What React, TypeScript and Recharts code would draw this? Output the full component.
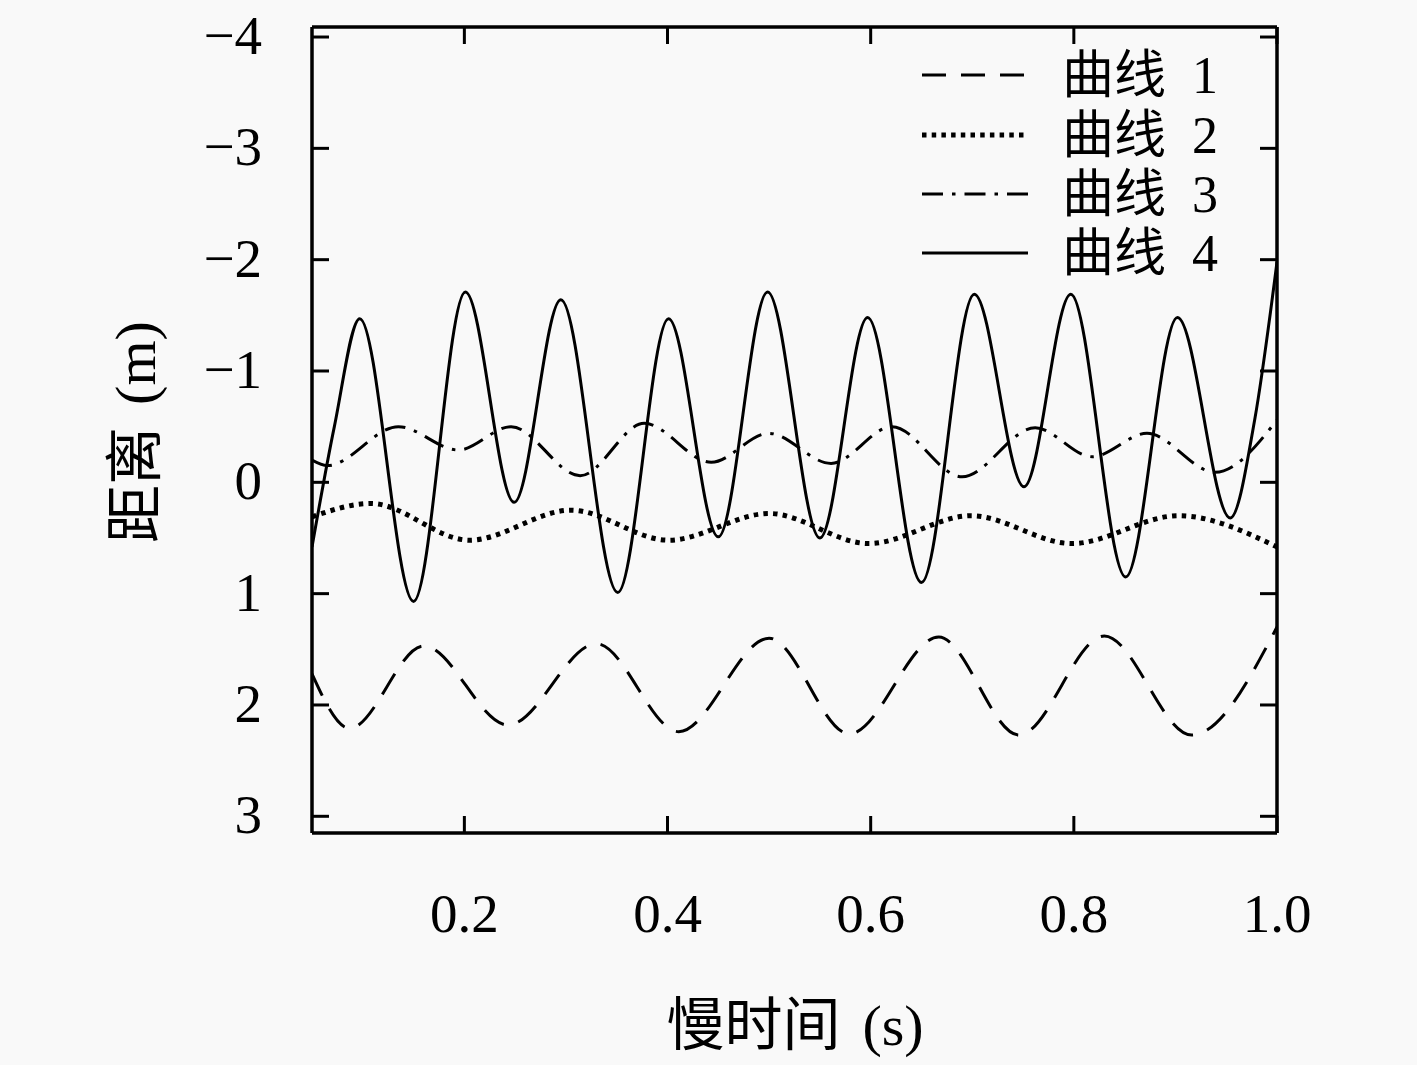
import { LineChart, Line, XAxis, YAxis } from 'recharts';

// values: [slow time (s), distance (m)]
const curve1 = [
  [0.05, 1.72], [0.087, 2.21], [0.16, 1.47], [0.243, 2.18], [0.33, 1.45], [0.411, 2.24],
  [0.5, 1.4], [0.579, 2.26], [0.667, 1.39], [0.746, 2.27], [0.83, 1.38], [0.916, 2.27], [1.0, 1.3],
];
const curve2 = [
  [0.05, 0.31], [0.108, 0.19], [0.205, 0.52], [0.305, 0.25], [0.401, 0.52], [0.5, 0.28],
  [0.598, 0.55], [0.699, 0.3], [0.798, 0.55], [0.903, 0.3], [1.0, 0.58],
];
const curve3 = [
  [0.05, -0.2], [0.065, -0.15], [0.135, -0.5], [0.194, -0.29], [0.246, -0.5], [0.314, -0.06],
  [0.377, -0.53], [0.443, -0.18], [0.4995, -0.44], [0.561, -0.17], [0.621, -0.5], [0.69, -0.05],
  [0.762, -0.49], [0.818, -0.23], [0.872, -0.44], [0.939, -0.09], [1.0, -0.56],
];
const curve4 = [
  [0.05, 0.58], [0.072, -0.5], [0.097, -1.47], [0.15, 1.07], [0.201, -1.71], [0.249, 0.18],
  [0.295, -1.64], [0.351, 0.99], [0.401, -1.47], [0.45, 0.49], [0.4985, -1.71], [0.55, 0.5],
  [0.597, -1.48], [0.65, 0.9], [0.702, -1.69], [0.751, 0.04], [0.797, -1.69], [0.851, 0.85],
  [0.902, -1.48], [0.954, 0.32], [0.978, -0.56], [1.0, -1.98],
];

const xTicks = [0.2, 0.4, 0.6, 0.8, 1.0];
const yTicks = [-4, -3, -2, -1, 0, 1, 2, 3];
const seriesNames = ['曲线 1', '曲线 2', '曲线 3', '曲线 4'];

const toPoints = (rows: number[][]) => rows.map(([x, y]) => ({ x, y }));

const SERIES = [
  { name: seriesNames[0], data: toPoints(curve1), dash: '24 15', width: 3 },
  { name: seriesNames[1], data: toPoints(curve2), dash: '4.5 5.2', width: 5 },
  { name: seriesNames[2], data: toPoints(curve3), dash: '21 9 3.5 9', width: 3 },
  { name: seriesNames[3], data: toPoints(curve4), dash: undefined, width: 3 },
];

const W = 1417;
const H = 1065;
const PLOT = { left: 312, top: 27, right: 1277, bottom: 833 };
const TICK_LEN = 17;
const FONT = '"Liberation Serif", "Noto Sans CJK SC", serif';
const INK = '#000';

const fmtY = (v: number) => (v < 0 ? `\u2212${Math.abs(v)}` : `${v}`);

function LeftTick(props: any) {
  const { y, payload } = props;
  return (
    <g>
      <line x1={PLOT.left} x2={PLOT.left + TICK_LEN} y1={y} y2={y} stroke={INK} strokeWidth={3} />
      <text x={262} y={y + 17} textAnchor="end" fontFamily={FONT} fontSize={55} fill={INK}>
        {fmtY(payload.value)}
      </text>
    </g>
  );
}

function RightTick(props: any) {
  const { y } = props;
  return <line x1={PLOT.right - TICK_LEN} x2={PLOT.right} y1={y} y2={y} stroke={INK} strokeWidth={3} />;
}

function BottomTick(props: any) {
  const { x, payload } = props;
  return (
    <g>
      <line x1={x} x2={x} y1={PLOT.bottom} y2={PLOT.bottom - TICK_LEN} stroke={INK} strokeWidth={3} />
      <text x={x} y={932} textAnchor="middle" fontFamily={FONT} fontSize={55} fill={INK}>
        {payload.value.toFixed(1)}
      </text>
    </g>
  );
}

function TopTick(props: any) {
  const { x } = props;
  return <line x1={x} x2={x} y1={PLOT.top} y2={PLOT.top + TICK_LEN} stroke={INK} strokeWidth={3} />;
}

function Legend() {
  const rows = [75, 135, 194, 253];
  return (
    <svg width={W} height={H} style={{ position: 'absolute', left: 0, top: 0, pointerEvents: 'none' }}>
      {SERIES.map((s, i) => {
        const [word, num] = s.name.split(' ');
        return (
          <g key={s.name}>
            <line
              x1={922}
              x2={1028}
              y1={rows[i]}
              y2={rows[i]}
              stroke={INK}
              strokeWidth={s.width}
              strokeDasharray={s.dash}
            />
            <text x={1062} y={rows[i] + 18} fontFamily={FONT} fontSize={52} fill={INK}>
              {word}
              <tspan dx={26}>{num}</tspan>
            </text>
          </g>
        );
      })}
    </svg>
  );
}

export default function App() {
  const axisLine = { stroke: INK, strokeWidth: 3.5 };
  return (
    <div style={{ position: 'absolute', left: 0, top: 0, width: W, height: H, background: '#f9f9f9' }}>
      <LineChart
        width={W}
        height={H}
        margin={{ top: 17, right: 130, bottom: 132, left: 212 }}
      >
        <XAxis
          type="number"
          dataKey="x"
          domain={[0.05, 1.0]}
          ticks={xTicks}
          allowDataOverflow
          height={100}
          axisLine={axisLine}
          tickLine={false}
          tick={BottomTick}
          label={{
            content: () => (
              <text x={795} y={1045} textAnchor="middle" fontFamily={FONT} fontSize={58} fill={INK}>
                慢时间
                <tspan dx={22}>(s)</tspan>
              </text>
            ),
          }}
        />
        <XAxis
          xAxisId="top"
          orientation="top"
          type="number"
          dataKey="x"
          domain={[0.05, 1.0]}
          ticks={xTicks}
          allowDataOverflow
          height={10}
          axisLine={axisLine}
          tickLine={false}
          tick={TopTick}
        />
        <YAxis
          type="number"
          domain={[-4.09, 3.15]}
          ticks={yTicks}
          reversed
          allowDataOverflow
          width={100}
          axisLine={axisLine}
          tickLine={false}
          tick={LeftTick}
          label={{
            content: () => (
              <text
                x={135}
                y={432}
                transform="rotate(-90 135 432)"
                textAnchor="middle"
                dominantBaseline="central"
                fontFamily={FONT}
                fontSize={58}
                fill={INK}
              >
                距离
                <tspan dx={22}>(m)</tspan>
              </text>
            ),
          }}
        />
        <YAxis
          yAxisId="right"
          orientation="right"
          type="number"
          domain={[-4.09, 3.15]}
          ticks={yTicks}
          reversed
          allowDataOverflow
          width={10}
          axisLine={axisLine}
          tickLine={false}
          tick={RightTick}
        />
        {SERIES.map((s) => (
          <Line
            key={s.name}
            data={s.data}
            dataKey="y"
            name={s.name}
            type="monotone"
            stroke={INK}
            strokeWidth={s.width}
            strokeDasharray={s.dash}
            dot={false}
            activeDot={false}
            isAnimationActive={false}
          />
        ))}
      </LineChart>
      <Legend />
    </div>
  );
}
